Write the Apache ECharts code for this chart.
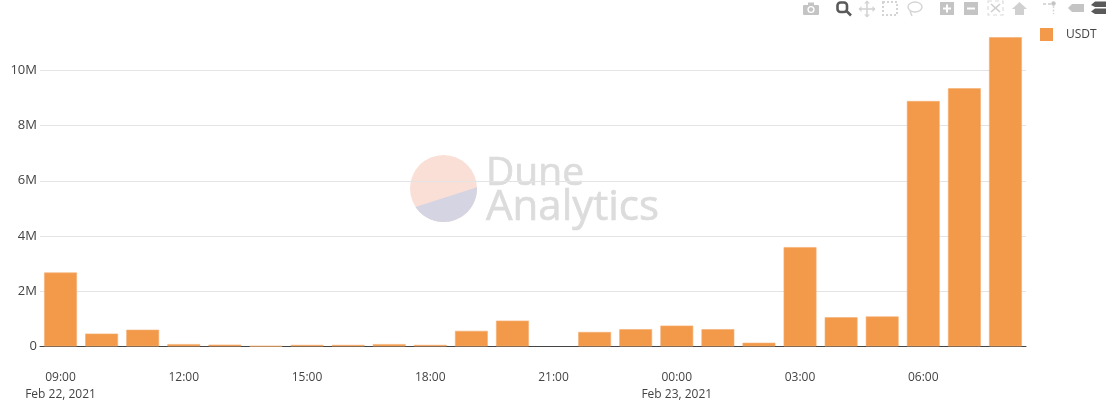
<!DOCTYPE html>
<html>
<head>
<meta charset="utf-8">
<style>html,body{margin:0;padding:0;background:#fff}#c{width:1106px;height:412px}</style>
<script src="https://cdn.jsdelivr.net/npm/echarts@6/dist/echarts.min.js"></script>
</head>
<body>
<div id="c"></div>
<script>
const categories = ['09:00\nFeb 22, 2021','10:00','11:00','12:00','13:00','14:00','15:00','16:00','17:00','18:00','19:00','20:00','21:00','22:00','23:00','00:00\nFeb 23, 2021','01:00','02:00','03:00','04:00','05:00','06:00','07:00','08:00'];
const usdt = [2680000,470000,610000,90000,70000,20000,60000,60000,90000,60000,570000,940000,0,530000,630000,760000,630000,140000,3600000,1060000,1090000,8890000,9350000,11200000];
const seriesName = 'USDT';
const yTicks = {0:'0',2000000:'2M',4000000:'4M',6000000:'6M',8000000:'8M',10000000:'10M'};

const grey = '#c4c4c4', dark = '#5a5a5a';
const icon = (shape, style, type) => ({type: type, shape, style, silent: true, z: 20});
const F = c => ({fill: c});
const S = (c, w, d) => ({fill: 'none', stroke: c, lineWidth: w || 1.5, lineDash: d || null});
const toolbar = [
  // camera
  icon({x:803,y:5,width:16,height:10,r:1}, F(grey), 'rect'),
  icon({x:808,y:2.5,width:6,height:3}, F(grey), 'rect'),
  icon({cx:811,cy:9.5,r:3.6}, F('#fff'), 'circle'),
  icon({cx:811,cy:9.5,r:2.2}, F(grey), 'circle'),
  // zoom (active)
  icon({x:837.5,y:2.5,width:9.5,height:9.5,r:3}, S(dark,2.6), 'rect'),
  icon({x1:846.5,y1:11,x2:851,y2:15.5}, S(dark,2.6), 'line'),
  // pan
  icon({x1:859,y1:9,x2:875,y2:9}, S('#d4d4d4',1.6), 'line'),
  icon({x1:867,y1:1,x2:867,y2:17}, S('#d4d4d4',1.6), 'line'),
  icon({points:[[864,3.5],[867,0.5],[870,3.5]]}, F('#d4d4d4'), 'polygon'),
  icon({points:[[864,14.5],[867,17.5],[870,14.5]]}, F('#d4d4d4'), 'polygon'),
  icon({points:[[861.5,6],[858.5,9],[861.5,12]]}, F('#d4d4d4'), 'polygon'),
  icon({points:[[872.5,6],[875.5,9],[872.5,12]]}, F('#d4d4d4'), 'polygon'),
  // box select
  icon({x:883,y:2,width:14,height:13}, S('#d4d4d4',2,[2,2]), 'rect'),
  // lasso
  icon({cx:915,cy:7,rx:7,ry:5}, S('#d4d4d4',1.4), 'ellipse'),
  icon({x1:910,y1:11,x2:912,y2:16}, S('#d4d4d4',1.4), 'line'),
  // zoom in
  icon({x:940,y:2,width:14,height:13}, F(grey), 'rect'),
  icon({x:943,y:7.5,width:8,height:2}, F('#fff'), 'rect'),
  icon({x:946,y:4.5,width:2,height:8}, F('#fff'), 'rect'),
  // zoom out
  icon({x:964,y:2,width:14,height:13}, F(grey), 'rect'),
  icon({x:967,y:7.5,width:8,height:2}, F('#fff'), 'rect'),
  // autoscale
  icon({x:988,y:1,width:15,height:14}, S('#dcdcdc',1.2,[4,3]), 'rect'),
  icon({x1:991,y1:4,x2:1000,y2:12}, S('#cfcfcf',1.6), 'line'),
  icon({x1:1000,y1:4,x2:991,y2:12}, S('#cfcfcf',1.6), 'line'),
  // home
  icon({points:[[1012,9],[1019.5,2],[1027,9]]}, F('#d0d0d0'), 'polygon'),
  icon({x:1015,y:9,width:9,height:6}, F('#d0d0d0'), 'rect'),
  // spikelines
  icon({x:1043,y:3,width:3,height:2}, F('#d8d8d8'), 'rect'),
  icon({x:1048,y:3,width:3,height:2}, F('#d8d8d8'), 'rect'),
  icon({cx:1053.5,cy:3.5,r:2.2}, F(grey), 'circle'),
  icon({x1:1053.5,y1:6,x2:1053.5,y2:14}, S('#d8d8d8',1.5,[2,1.5]), 'line'),
  // hover closest
  icon({points:[[1068,8],[1072,4],[1084,4],[1084,12],[1072,12]]}, F(grey), 'polygon'),
  // hover compare
  icon({points:[[1091,5],[1095,1.5],[1106,1.5],[1106,7],[1095,7]]}, F(dark), 'polygon'),
  icon({points:[[1091,11.5],[1095,8.5],[1106,8.5],[1106,14],[1095,14]]}, F(dark), 'polygon')
];
// lower part of the logo disc: a circular segment cut by a tilted chord
const logo = {cx: 443.5, cy: 188.5, r: 33.5, from: -0.04, to: 2.56};
const logoPts = [];
for (let i = 0; i <= 48; i++) {
  const a = logo.from + (logo.to - logo.from) * i / 48;
  logoPts.push([logo.cx + logo.r * Math.cos(a), logo.cy + logo.r * Math.sin(a)]);
}
const watermark = [
  {type:'circle', shape:{cx:logo.cx,cy:logo.cy,r:logo.r}, style:{fill:'#fadfd7'}, silent:true, z:-1},
  {type:'polygon', shape:{points:logoPts}, style:{fill:'#d5d4e3'}, silent:true, z:-1},
  {type:'text', x:486, y:154, style:{text:'Dune', font:'39px "Open Sans"', fill:'#dcdcdc', stroke:'#dcdcdc', lineWidth:0.7}, silent:true, z:-1},
  {type:'text', x:486, y:187, style:{text:'Analytics', font:'42px "Open Sans"', fill:'#dcdcdc', stroke:'#dcdcdc', lineWidth:0.7}, silent:true, z:-1}
];

const chart = echarts.init(document.getElementById('c'), null, {renderer:'canvas'});
chart.setOption({
  animation: false,
  backgroundColor: '#fff',
  textStyle: {fontFamily: '"Open Sans"'},
  grid: {left: 40, right: 80, top: 15, bottom: 65.5},
  legend: {
    show: true, left: 1035, top: 23, orient: 'vertical',
    itemWidth: 13, itemHeight: 13, icon: 'rect',
    data: [seriesName],
    itemStyle: {borderWidth: 0},
    textStyle: {fontFamily:'"Open Sans"', fontSize: 12, color:'#444', padding:[0,0,0,8]}
  },
  xAxis: {
    type: 'category', data: categories,
    axisLine: {show: true, lineStyle: {color:'#444', width: 1}},
    axisTick: {show: false},
    axisLabel: {
      interval: (i) => i % 3 === 0,
      margin: 23, color:'#444', fontSize: 12, lineHeight: 17, fontFamily:'"Open Sans"', align:'center'
    }
  },
  yAxis: {
    type: 'value', min: 0, max: 12000000, interval: 2000000,
    axisLine: {show:false}, axisTick: {show:false},
    axisLabel: {showMaxLabel:false, margin: 3, color:'#444', fontSize: 13, fontFamily:'"Open Sans"', formatter: v => yTicks[v] || ''},
    splitLine: {show:true, showMinLine:false, showMaxLine:false, lineStyle:{color:'#e4e4e4', width:1}}
  },
  series: [{
    name: seriesName, type:'bar', barWidth: 33,
    data: usdt.map(v => v === 0 ? {value: v, itemStyle: {borderWidth: 0}} : v),
    itemStyle: {color:'#f2994a', borderColor:'rgba(245,175,115,0.8)', borderWidth:0.8}
  }],
  graphic: {elements: watermark.concat(toolbar)}
});
</script>
</body>
</html>
